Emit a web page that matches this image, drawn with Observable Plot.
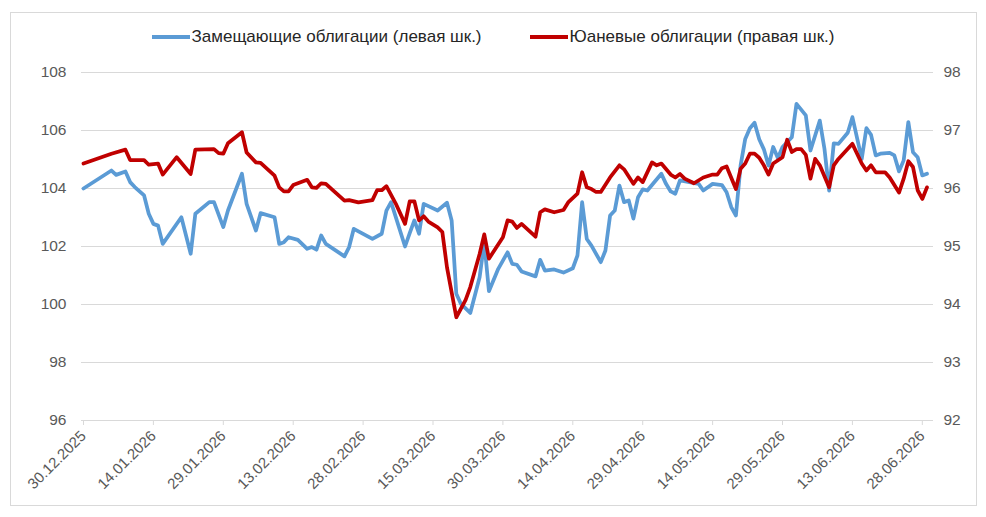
<!DOCTYPE html>
<html><head><meta charset="utf-8">
<script src="https://cdn.jsdelivr.net/npm/d3@7"></script>
<script src="https://cdn.jsdelivr.net/npm/@observablehq/plot@0.6"></script>
<style>
body{margin:0;background:#fff;font-family:"Liberation Sans",Arial,sans-serif;}
#wrap{position:relative;width:986px;height:517px;overflow:hidden;}
#frame{position:absolute;left:10px;top:12px;width:967px;height:494px;border:1px solid #d9d9d9;box-sizing:border-box;}
#legend{position:absolute;top:27px;left:10px;width:966px;display:flex;justify-content:center;gap:48px;font-size:17px;color:#262626;line-height:20px;}
#legend .item{display:flex;align-items:center;}
#legend .sw{display:inline-block;width:38px;height:4px;margin-right:2px;}
#chart{position:absolute;left:0;top:50px;}
</style></head>
<body>
<div id="wrap">
  <div id="frame"></div>
  <div id="legend"></div>
  <div id="chart"></div>
</div>
<script>
const seriesNames = ["Замещающие облигации (левая шк.)", "Юаневые облигации (правая шк.)"];
const seriesColors = ["#5B9BD5", "#C00000"];

const blueDates = ["2025-12-30","2026-01-05","2026-01-06","2026-01-08","2026-01-09","2026-01-10","2026-01-12","2026-01-13","2026-01-14","2026-01-15","2026-01-16","2026-01-20","2026-01-22","2026-01-23","2026-01-26","2026-01-27","2026-01-29","2026-01-30","2026-02-02","2026-02-03","2026-02-05","2026-02-06","2026-02-09","2026-02-10","2026-02-11","2026-02-12","2026-02-14","2026-02-16","2026-02-17","2026-02-18","2026-02-19","2026-02-20","2026-02-24","2026-02-25","2026-02-26","2026-03-02","2026-03-04","2026-03-05","2026-03-06","2026-03-09","2026-03-10","2026-03-11","2026-03-12","2026-03-13","2026-03-16","2026-03-18","2026-03-19","2026-03-20","2026-03-21","2026-03-23","2026-03-25","2026-03-26","2026-03-27","2026-03-29","2026-03-31","2026-04-01","2026-04-02","2026-04-03","2026-04-06","2026-04-07","2026-04-08","2026-04-10","2026-04-12","2026-04-14","2026-04-15","2026-04-16","2026-04-17","2026-04-18","2026-04-20","2026-04-21","2026-04-22","2026-04-23","2026-04-24","2026-04-25","2026-04-26","2026-04-27","2026-04-28","2026-04-29","2026-04-30","2026-05-03","2026-05-04","2026-05-05","2026-05-06","2026-05-07","2026-05-09","2026-05-11","2026-05-12","2026-05-14","2026-05-16","2026-05-17","2026-05-18","2026-05-19","2026-05-20","2026-05-21","2026-05-22","2026-05-23","2026-05-24","2026-05-25","2026-05-26","2026-05-27","2026-05-28","2026-05-29","2026-05-31","2026-06-01","2026-06-03","2026-06-04","2026-06-06","2026-06-07","2026-06-08","2026-06-09","2026-06-10","2026-06-12","2026-06-13","2026-06-15","2026-06-16","2026-06-17","2026-06-18","2026-06-19","2026-06-21","2026-06-22","2026-06-23","2026-06-24","2026-06-25","2026-06-26","2026-06-27","2026-06-28","2026-06-29"];
const blueValues = [104.0,104.62,104.47,104.59,104.22,104.05,103.76,103.13,102.78,102.72,102.09,103.01,101.75,103.13,103.53,103.53,102.67,103.24,104.51,103.47,102.55,103.15,103.01,102.09,102.15,102.32,102.23,101.92,101.98,101.89,102.38,102.09,101.66,101.98,102.61,102.26,102.44,103.24,103.53,102.0,102.46,102.90,102.44,103.47,103.24,103.51,102.9,100.37,100.02,99.71,100.94,102.15,100.46,101.23,101.80,101.40,101.37,101.14,100.97,101.54,101.17,101.21,101.10,101.25,101.69,103.53,102.26,102.03,101.46,101.86,103.07,103.24,104.10,103.53,103.59,102.96,103.70,103.97,103.93,104.51,104.16,103.90,103.82,104.28,104.22,104.16,103.93,104.16,104.12,103.87,103.36,103.07,104.79,105.71,106.08,106.27,105.70,105.35,104.79,105.43,105.05,105.43,105.77,106.92,106.52,105.31,106.34,105.37,103.93,105.56,105.54,105.92,106.46,105.02,106.08,105.85,105.14,105.20,105.23,105.14,104.59,104.97,106.29,105.25,105.08,104.45,104.51];

const redDates = ["2025-12-30","2026-01-05","2026-01-08","2026-01-09","2026-01-12","2026-01-13","2026-01-15","2026-01-16","2026-01-19","2026-01-22","2026-01-23","2026-01-27","2026-01-28","2026-01-29","2026-01-30","2026-02-02","2026-02-03","2026-02-05","2026-02-06","2026-02-09","2026-02-10","2026-02-11","2026-02-12","2026-02-13","2026-02-16","2026-02-17","2026-02-18","2026-02-19","2026-02-20","2026-02-24","2026-02-25","2026-02-27","2026-03-02","2026-03-03","2026-03-04","2026-03-05","2026-03-07","2026-03-09","2026-03-10","2026-03-11","2026-03-12","2026-03-13","2026-03-14","2026-03-16","2026-03-17","2026-03-18","2026-03-20","2026-03-22","2026-03-23","2026-03-25","2026-03-26","2026-03-27","2026-03-30","2026-03-31","2026-04-01","2026-04-02","2026-04-03","2026-04-06","2026-04-07","2026-04-08","2026-04-10","2026-04-12","2026-04-13","2026-04-15","2026-04-16","2026-04-17","2026-04-18","2026-04-19","2026-04-20","2026-04-22","2026-04-24","2026-04-25","2026-04-27","2026-04-28","2026-04-29","2026-05-01","2026-05-02","2026-05-03","2026-05-05","2026-05-06","2026-05-07","2026-05-08","2026-05-10","2026-05-12","2026-05-14","2026-05-15","2026-05-16","2026-05-17","2026-05-19","2026-05-20","2026-05-21","2026-05-22","2026-05-23","2026-05-24","2026-05-25","2026-05-26","2026-05-27","2026-05-29","2026-05-30","2026-05-31","2026-06-01","2026-06-02","2026-06-03","2026-06-04","2026-06-05","2026-06-06","2026-06-08","2026-06-09","2026-06-10","2026-06-13","2026-06-15","2026-06-16","2026-06-17","2026-06-18","2026-06-20","2026-06-21","2026-06-23","2026-06-24","2026-06-25","2026-06-26","2026-06-27","2026-06-28","2026-06-29"];
const redValues = [96.43,96.60,96.67,96.49,96.49,96.41,96.43,96.24,96.54,96.25,96.67,96.68,96.61,96.60,96.78,96.97,96.62,96.45,96.44,96.22,96.02,95.95,95.95,96.06,96.15,96.02,96.01,96.09,96.08,95.79,95.80,95.76,95.80,95.97,95.97,96.04,95.74,95.39,95.78,95.78,95.45,95.52,95.43,95.33,95.25,94.64,93.78,94.08,94.30,94.87,95.21,94.79,95.16,95.45,95.43,95.32,95.39,95.17,95.59,95.64,95.59,95.63,95.76,95.91,96.28,96.02,95.99,95.94,95.94,96.19,96.40,96.33,96.08,96.19,96.11,96.45,96.40,96.43,96.24,96.19,96.25,96.17,96.09,96.19,96.24,96.24,96.35,96.38,95.99,96.34,96.43,96.60,96.60,96.53,96.40,96.24,96.43,96.54,96.84,96.63,96.68,96.68,96.58,96.17,96.51,96.40,96.02,96.40,96.51,96.77,96.43,96.31,96.40,96.28,96.28,96.19,95.93,96.17,96.47,96.37,95.97,95.82,96.02];

const xTickDates = ["2025-12-30","2026-01-14","2026-01-29","2026-02-13","2026-02-28","2026-03-15","2026-03-30","2026-04-14","2026-04-29","2026-05-14","2026-05-29","2026-06-13","2026-06-28"];
const leftTicks = [96, 98, 100, 102, 104, 106, 108];
const rightTicks = [92, 93, 94, 95, 96, 97, 98];

// legend
const legend = document.getElementById("legend");
seriesNames.forEach((n, i) => {
  const it = document.createElement("div");
  it.className = "item";
  it.innerHTML = `<span class="sw" style="background:${seriesColors[i]}"></span><span>${n}</span>`;
  legend.appendChild(it);
});

const parse = s => new Date(s + "T00:00:00Z");
const blue = blueDates.map((d, i) => ({date: parse(d), v: blueValues[i]}));
const red = redDates.map((d, i) => ({date: parse(d), v: redValues[i]}));
// right scale [92,98] maps onto left scale [96,108]
const toLeft = v => 96 + (v - 92) * (108 - 96) / (98 - 92);

const DAY = 86400000;
const t0 = parse("2025-12-30").getTime();
const fmt = d3.utcFormat("%d.%m.%Y");

const chart = Plot.plot({
  width: 986,
  height: 456,
  marginLeft: 81,
  marginRight: 53,
  marginTop: 22,
  marginBottom: 86,
  style: {fontFamily: "'Liberation Sans', Arial, sans-serif", fontSize: "15.5px", color: "#595959", background: "transparent"},
  x: {type: "utc", domain: [new Date(t0 - 0.43 * DAY), new Date(t0 + 182.4 * DAY)]},
  y: {domain: [96, 108]},
  marks: [
    Plot.gridY(leftTicks, {stroke: "#d9d9d9", strokeOpacity: 1, strokeWidth: 1}),
    Plot.axisY(leftTicks, {tickSize: 0, tickPadding: 15, tickFormat: d => String(d), label: null}),
    Plot.axisY(rightTicks.map(toLeft), {anchor: "right", tickSize: 0, tickPadding: 10, tickFormat: d => String(92 + (d - 96) / 2), label: null}),
    Plot.axisX(xTickDates.map(parse), {tickSize: 5, stroke: "#d9d9d9", tickPadding: 8, tickRotate: -45, tickFormat: fmt, fontSize: 15, label: null}),
    Plot.lineY(blue, {x: "date", y: "v", stroke: seriesColors[0], strokeWidth: 3.75, strokeLinejoin: "round", strokeLinecap: "round"}),
    Plot.lineY(red, {x: "date", y: d => toLeft(d.v), stroke: seriesColors[1], strokeWidth: 3.75, strokeLinejoin: "round", strokeLinecap: "round"})
  ]
});
document.getElementById("chart").appendChild(chart);
</script>
</body></html>
